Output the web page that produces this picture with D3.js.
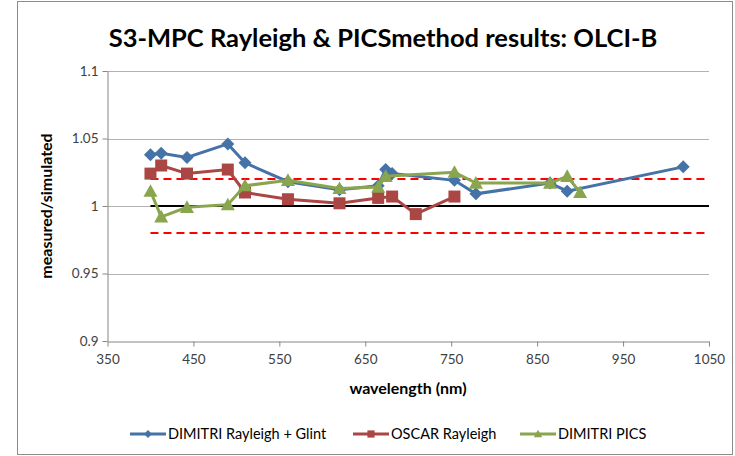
<!DOCTYPE html>
<html>
<head>
<meta charset="utf-8">
<script src="https://cdn.jsdelivr.net/npm/d3@7"></script>
<style>
  body { margin: 0; background: #fff; }
  text { font-family: Lato, "Open Sans", sans-serif; }
</style>
</head>
<body>
<svg id="main"></svg>
<script>
// wavelengths (nm) and ratios per series
let blueWl = [400, 412.5, 442.5, 490, 510, 560, 620, 665, 673.75, 681.25, 753.75, 778.75, 865, 885, 1020]
let blueVal = [1.038, 1.039, 1.036, 1.046, 1.032, 1.018, 1.012, 1.015, 1.027, 1.024, 1.019, 1.009, 1.017, 1.011, 1.029]

let redWl = [400, 412.5, 442.5, 490, 510, 560, 620, 665, 681.25, 708.75, 753.75]
let redVal = [1.024, 1.030, 1.024, 1.027, 1.010, 1.005, 1.002, 1.006, 1.007, 0.994, 1.007]

let greenWl = [400, 412.5, 442.5, 490, 510, 560, 620, 665, 673.75, 753.75, 778.75, 865, 885, 900]
let greenVal = [1.011, 0.992, 0.999, 1.001, 1.015, 1.019, 1.013, 1.014, 1.022, 1.025, 1.017, 1.017, 1.022, 1.010]

let seriesNames = ['DIMITRI Rayleigh + Glint', 'OSCAR Rayleigh', 'DIMITRI PICS']
let xTicks = [350, 450, 550, 650, 750, 850, 950, 1050]
let yTicks = [0.9, 0.95, 1, 1.05, 1.1]
// reference lines: [value, start, end]
let refLines = [[1.02, 400, 1050], [1.0, 400, 1050], [0.98, 400, 1050]]

let width = 735
let height = 456

let svg = d3.select('#main').attr('width', width).attr('height', height)

// chart frame
svg.append('rect')
    .attr('x', 17.5).attr('y', 1.5)
    .attr('width', 715).attr('height', 453)
    .attr('fill', 'none')
    .attr('stroke', '#8c8c8c')

let xScale = d3.scaleLinear().domain([350, 1050]).range([107.5, 709])
let yScale = d3.scaleLinear().domain([0.9, 1.1]).range([341, 71])

// gridlines
svg.append('g').selectAll('line')
    .data(yTicks.slice(1))
    .enter()
    .append('line')
    .attr('x1', xScale(350)).attr('x2', xScale(1050))
    .attr('y1', d => Math.round(yScale(d)) + 0.5)
    .attr('y2', d => Math.round(yScale(d)) + 0.5)
    .attr('stroke', '#b3b3b3')

let xAxis = d3.axisBottom(xScale).tickValues(xTicks).tickFormat(d3.format('d')).tickSizeInner(5).tickSizeOuter(0)
let xg = svg.append('g')
    .attr('transform', 'translate(0, 341.5)')
    .call(xAxis)
xg.select('.domain').attr('stroke', '#868686')
xg.selectAll('.tick line').attr('stroke', '#868686')
xg.selectAll('.tick text').attr('font-size', 13.5).attr('fill', '#404040').attr('dy', '1.05em')

let yAxis = d3.axisLeft(yScale).tickValues(yTicks).tickFormat(d => d).tickSizeInner(5).tickSizeOuter(0)
let yg = svg.append('g')
    .attr('transform', 'translate(107.5, 0)')
    .call(yAxis)
yg.select('.domain').attr('stroke', '#868686')
yg.selectAll('.tick line').attr('stroke', '#868686')
yg.selectAll('.tick text').attr('font-size', 13.5).attr('fill', '#404040').attr('x', -9)

// reference lines
svg.append('g').selectAll('line')
    .data(refLines)
    .enter()
    .append('line')
    .attr('x1', d => xScale(d[1])).attr('x2', d => xScale(d[2]))
    .attr('y1', d => yScale(d[0])).attr('y2', d => yScale(d[0]))
    .attr('stroke', d => d[0] == 1 ? '#000' : '#ff0000')
    .attr('stroke-width', 2)
    .attr('stroke-dasharray', d => d[0] == 1 ? null : '8,5')

const diamond = r => `M0,${-r}L${r},0L0,${r}L${-r},0Z`
const square = r => `M${-r},${-r}H${r}V${r}H${-r}Z`
const triangle = r => `M0,${-r}L${r},${r * 0.8}L${-r},${r * 0.8}Z`

let series = [
    { name: seriesNames[0], wl: blueWl, val: blueVal, color: '#4572a7', shape: diamond, r: 6.5 },
    { name: seriesNames[1], wl: redWl, val: redVal, color: '#aa4643', shape: square, r: 6 },
    { name: seriesNames[2], wl: greenWl, val: greenVal, color: '#89a54e', shape: triangle, r: 7 }
]

const line = d3.line().x(d => xScale(d[0])).y(d => yScale(d[1]))

series.forEach(s => {
    let pts = s.wl.map((w, i) => [w, s.val[i]])
    svg.append('path')
        .attr('d', line(pts))
        .attr('fill', 'none')
        .attr('stroke', s.color)
        .attr('stroke-width', 3)
    svg.append('g').selectAll('path')
        .data(pts)
        .enter()
        .append('path')
        .attr('d', s.shape(s.r))
        .attr('transform', d => `translate(${xScale(d[0])}, ${yScale(d[1])})`)
        .attr('fill', s.color)
})

// title and axis titles
svg.append('text')
    .attr('x', 383).attr('y', 47)
    .attr('text-anchor', 'middle')
    .attr('font-size', 25.5).attr('font-weight', 'bold')
    .text('S3-MPC Rayleigh & PICSmethod results: OLCI-B')

svg.append('text')
    .attr('x', 408).attr('y', 394)
    .attr('text-anchor', 'middle')
    .attr('font-size', 16).attr('font-weight', 'bold')
    .text('wavelength (nm)')

svg.append('text')
    .attr('transform', 'translate(52, 206) rotate(-90)')
    .attr('text-anchor', 'middle')
    .attr('font-size', 16).attr('font-weight', 'bold')
    .text('measured/simulated')

// legend
let legendX = [130, 353, 520]
let legend = svg.append('g').selectAll('g')
    .data(series)
    .enter()
    .append('g')
    .attr('transform', (d, i) => `translate(${legendX[i]}, 434)`)
legend.append('line')
    .attr('x1', 0).attr('x2', 36)
    .attr('stroke', d => d.color).attr('stroke-width', 3)
legend.append('path')
    .attr('d', d => d.shape(d.r * 0.6))
    .attr('transform', 'translate(18, 0)')
    .attr('fill', d => d.color)
legend.append('text')
    .attr('x', 38).attr('y', 5)
    .attr('font-size', 14.5).attr('fill', '#000')
    .text(d => d.name)
</script>
</body>
</html>
